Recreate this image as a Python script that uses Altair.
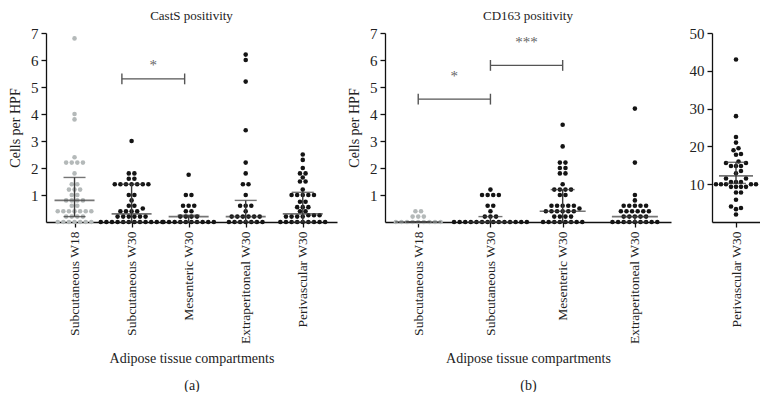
import json
import altair as alt
import pandas as pd

SERIF = "Liberation Serif"

# ---------------- data ----------------
casts_categories = ["Subcutaneous W18", "Subcutaneous W30", "Mesenteric W30",
                    "Extraperitoneal W30", "Perivascular W30"]
casts_sub_w18 = [6.8, 4.0, 3.8, 2.4, 2.2, 2.2, 2.2, 2.2, 1.8, 1.4, 1.4,
                 1.2, 1.2, 1.2, 1.0, 1.0, 0.8, 0.8, 0.8, 0.8, 0.6, 0.6,
                 0.4, 0.4, 0.4, 0.4, 0.4, 0.4, 0.4, 0.2, 0.2, 0.2, 0.2,
                 0, 0, 0, 0, 0, 0, 0]
casts_sub_w30 = [3.0, 1.8, 1.8, 1.6, 1.6, 1.4, 1.4, 1.4, 1.4, 1.4, 1.4, 1.4,
                 1.0, 1.0, 0.8, 0.6, 0.6, 0.5, 0.4, 0.4, 0.4, 0.4,
                 0.2, 0.2, 0.2, 0.2, 0.2, 0.2,
                 0, 0, 0, 0, 0, 0, 0, 0, 0, 0, 0, 0]
casts_mes_w30 = [1.75, 1.0, 1.0, 0.6, 0.6, 0.6, 0.4, 0.4, 0.2, 0.2, 0.2, 0.2,
                 0, 0, 0, 0, 0, 0, 0, 0, 0, 0]
casts_extra_w30 = [6.2, 6.0, 5.2, 3.4, 2.2, 1.8, 1.4, 1.4, 1.0, 0.6, 0.6, 0.6,
                   0.4, 0.2, 0.2, 0.2, 0.2, 0.2, 0.2, 0, 0, 0, 0, 0, 0, 0]
casts_peri_w30 = [2.5, 2.3, 2.0, 1.8, 1.8, 1.65, 1.5, 1.5, 1.2, 1.0, 1.0, 1.0,
                  1.0, 1.0, 0.75, 0.75, 0.55, 0.55, 0.55, 0.4, 0.4, 0.25, 0.25,
                  0.25, 0.2, 0.2, 0.2, 0.2, 0, 0, 0, 0, 0, 0, 0, 0, 0]
casts_median = [0.8, 0.3, 0.2, 0.2, 0.3]
casts_q1 = [0.2, 0.0, 0.0, 0.0, 0.0]
casts_q3 = [1.65, 1.4, 0.25, 0.8, 1.1]

cd163_categories = ["Subcutaneous W18", "Subcutaneous W30", "Mesenteric W30",
                    "Extraperitoneal W30"]
cd163_sub_w18 = [0.4, 0.4, 0.2, 0.2, 0.2, 0, 0, 0, 0, 0, 0, 0, 0, 0]
cd163_sub_w30 = [1.2, 1.0, 1.0, 1.0, 1.0, 0.6, 0.6, 0.4, 0.2, 0.2, 0.2,
                 0, 0, 0, 0, 0, 0, 0, 0, 0, 0, 0, 0, 0, 0]
cd163_mes_w30 = [3.6, 2.8, 2.2, 2.2, 2.0, 2.0, 1.8, 1.8, 1.4, 1.2, 1.2, 1.2, 1.2,
                 1.0, 1.0, 0.6, 0.6, 0.6, 0.6, 0.6, 0.5, 0.4, 0.4, 0.4, 0.4,
                 0.4, 0.4, 0.2, 0.2, 0.2, 0.2, 0, 0, 0, 0, 0, 0, 0, 0]
cd163_extra_w30 = [4.2, 2.2, 1.0, 0.8, 0.6, 0.6, 0.6, 0.6, 0.6, 0.4, 0.4, 0.4,
                   0.4, 0.4, 0.4, 0.2, 0.2, 0.2, 0.2, 0.2,
                   0, 0, 0, 0, 0, 0, 0, 0, 0]
cd163_median = [0.0, 0.0, 0.4, 0.2]
cd163_q1 = [0.0, 0.0, 0.0, 0.0]
cd163_q3 = [0.0, 0.2, 1.2, 0.2]

peri_categories = ["Perivascular W30"]
cd163_peri_w30 = [43, 28, 22.5, 21, 19.5, 19, 18, 17.8, 16, 15.6, 15.6, 14.8,
                  14.8, 14.8, 13.5, 12.9, 11.5, 11.5, 10.6, 10.6, 10.6, 10, 10,
                  10, 10, 10, 9.3, 9.3, 9.3, 9.3, 7.8, 7.8, 5.9, 4.1, 3.7, 3.4, 2.0]
peri_median = [12.2]
peri_q1 = [10.2]
peri_q3 = [15.8]

# significance brackets: (left, right, level, star level, label)
casts_brackets = [(0.83, 1.93, 5.3, 5.8, "*")]
cd163_brackets = [(0, 1, 4.55, 5.4, "*"), (1, 2, 5.8, 6.65, "***")]

GRAY = "#b4b9b9"
BLACK = "#141414"
BAR = "#3a3a3a"
BRK = "#555555"


# ---------------- layout helpers (dot arrangement) ----------------
def rows_layout(vals, px_x, px_y, step=5.6, tol=3.5):
    vals = sorted(vals)
    out, row = [], []

    def place(r):
        n = len(r)
        return [(v, (k - (n - 1) / 2) * step / px_x) for k, v in enumerate(r)]

    for v in vals:
        if row and (v - row[0]) * px_y > tol:
            out += place(row)
            row = []
        row.append(v)
    out += place(row)
    return out


def swarm_layout(vals, px_x, px_y, step=5.0, dist=4.6):
    placed = []
    out = []
    for v in sorted(vals):
        y = v * px_y
        cands = [0]
        for k in range(1, 40):
            cands += [k, -k]
        for c in cands:
            x = c * step / 2
            if all((x - a) ** 2 + (y - b) ** 2 >= dist ** 2 for a, b in placed):
                break
        placed.append((x, y))
        out.append((v, x / px_x))
    return out


def dots_frame(series, px_x, px_y, gray_first, layout):
    recs = []
    for i, vals in enumerate(series):
        tone = "gray" if (gray_first and i == 0) else "black"
        for v, off in layout(vals, px_x, px_y):
            recs.append({"pos": i + off, "value": v, "tone": tone})
    return pd.DataFrame(recs)


def panel(categories, series, med, q1, q3, brackets, width, height, xdom,
          ydom, yvals, ytitle, xtitle, title, gray_first, layout,
          med_len, cap_len):
    px_x = width / (xdom[1] - xdom[0])
    px_y = height / (ydom[1] - ydom[0])
    dots = dots_frame(series, px_x, px_y, gray_first, layout)
    stats = pd.DataFrame({"pos": list(range(len(categories))),
                          "med": med, "q1": q1, "q3": q3})
    label_expr = json.dumps(categories) + "[round(datum.value)]"
    ncat = len(categories)

    if xtitle:
        x_axis = alt.Axis(values=list(range(ncat)), tickCount=ncat,
                          labelExpr=label_expr, labelAngle=-90,
                          labelFontSize=13.5, labelPadding=4, tickSize=5,
                          title=xtitle, titleFontSize=14, titleY=129,
                          titleBaseline="top", titleLineHeight=27,
                          labelOverlap=False)
    else:
        x_axis = alt.Axis(values=list(range(ncat)), tickCount=ncat,
                          labelExpr=label_expr, labelAngle=-90,
                          labelFontSize=13.5, labelPadding=4, tickSize=5,
                          title=None, labelOverlap=False)
    x = alt.X("pos:Q", scale=alt.Scale(domain=xdom, nice=False, zero=False),
              axis=x_axis)
    y = alt.Y("value:Q", scale=alt.Scale(domain=ydom, nice=False),
              axis=alt.Axis(values=yvals, tickCount=len(yvals),
                            title=ytitle if ytitle else None,
                            labelFontSize=15, labelPadding=3, tickSize=5,
                            titleFontSize=14, titlePadding=8,
                            labelOverlap=False))

    pts = alt.Chart(dots).mark_circle(size=21, opacity=1).encode(
        x=x, y=y,
        color=alt.Color("tone:N", scale=alt.Scale(domain=["gray", "black"],
                                                  range=[GRAY, BLACK]),
                        legend=None))
    vline = alt.Chart(stats).mark_rule(color=BAR, strokeWidth=1.4).encode(
        x="pos:Q", y="q1:Q", y2="q3:Q")
    medt = alt.Chart(stats).mark_tick(orient="horizontal", size=med_len,
                                      thickness=1.6, color=BAR).encode(
        x="pos:Q", y="med:Q")
    capq1 = alt.Chart(stats).mark_tick(orient="horizontal", size=cap_len,
                                       thickness=1.4, color=BAR).encode(
        x="pos:Q", y="q1:Q")
    capq3 = alt.Chart(stats).mark_tick(orient="horizontal", size=cap_len,
                                       thickness=1.4, color=BAR).encode(
        x="pos:Q", y="q3:Q")
    layers = [pts, vline, capq1, capq3, medt]

    if brackets:
        bdf = pd.DataFrame([{"l": b[0], "r": b[1], "lev": b[2], "star": b[3],
                             "lab": b[4], "mid": (b[0] + b[1]) / 2,
                             "lo": b[2] - 0.2, "hi": b[2] + 0.2}
                            for b in brackets])
        hl = alt.Chart(bdf).mark_rule(color=BRK, strokeWidth=1.4).encode(
            x="l:Q", x2="r:Q", y="lev:Q")
        el = alt.Chart(bdf).mark_rule(color=BRK, strokeWidth=1.4).encode(
            x="l:Q", y="lo:Q", y2="hi:Q")
        er = alt.Chart(bdf).mark_rule(color=BRK, strokeWidth=1.4).encode(
            x="r:Q", y="lo:Q", y2="hi:Q")
        st = alt.Chart(bdf).mark_text(font=SERIF, fontSize=15, color="#666666",
                                      baseline="middle").encode(
            x="mid:Q", y="star:Q", text="lab:N")
        layers += [hl, el, er, st]

    return alt.layer(*layers).properties(
        width=width, height=height,
        title=alt.TitleParams(title, font=SERIF, fontSize=13,
                              fontWeight="normal", color="#222", offset=3,
                              anchor="middle"))


pa = panel(casts_categories,
           [casts_sub_w18, casts_sub_w30, casts_mes_w30, casts_extra_w30,
            casts_peri_w30],
           casts_median, casts_q1, casts_q3, casts_brackets,
           291, 189, [-0.5, 4.6], [0, 7], [1, 2, 3, 4, 5, 6, 7],
           "Cells per HPF", ["Adipose tissue compartments", "(a)"],
           "CastS positivity", True, rows_layout, 40, 22)

pb = panel(cd163_categories,
           [cd163_sub_w18, cd163_sub_w30, cd163_mes_w30, cd163_extra_w30],
           cd163_median, cd163_q1, cd163_q3, cd163_brackets,
           286, 189, [-0.46, 3.5], [0, 7], [1, 2, 3, 4, 5, 6, 7],
           "Cells per HPF", ["Adipose tissue compartments", "(b)"],
           "CD163 positivity", True, rows_layout, 46, 24)

pc = panel(peri_categories, [cd163_peri_w30], peri_median, peri_q1, peri_q3,
           [], 48, 189, [-0.5, 0.5], [0, 50], [10, 20, 30, 40, 50],
           None, None, " ", False, swarm_layout, 34, 20)

inner = alt.hconcat(pb, pc, spacing=41, bounds="flush")
chart = alt.hconcat(pa, inner, spacing=48, bounds="flush").properties(
    padding={"left": 0, "top": 2, "right": 0, "bottom": 0}
).configure_view(stroke=None).configure_axis(
    grid=False, domainColor="#111", domainWidth=1.3, tickColor="#111",
    tickWidth=1.3, labelFont=SERIF, titleFont=SERIF, labelColor="#222",
    titleColor="#222", titleFontWeight="normal"
)

chart.save("out.html", embed_options={"renderer": "svg", "actions": False})
